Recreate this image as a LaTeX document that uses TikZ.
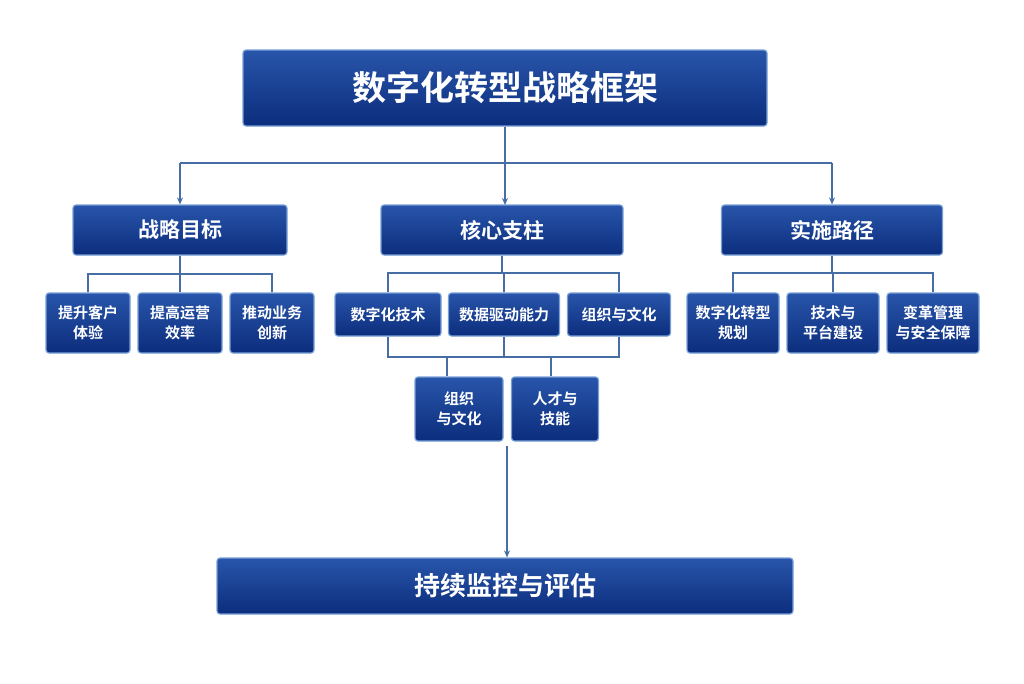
\documentclass[tikz,border=0pt]{standalone}
\usepackage{fontspec}
\setmainfont{Noto Sans CJK SC}[BoldFont={* Bold}]
\usetikzlibrary{arrows.meta}
\definecolor{boxtop}{RGB}{40,85,170}
\definecolor{boxbot}{RGB}{12,45,125}
\definecolor{boxline}{RGB}{120,160,215}
\definecolor{wire}{RGB}{70,110,165}
\tikzset{
  box/.style={rectangle,rounded corners=3pt,draw=boxline,line width=1.2pt,
    top color=boxtop,bottom color=boxbot,text=white,font=\bfseries,
    align=center,inner sep=1pt},
  wire/.style={draw=wire,line width=1.3pt},
  arr/.style={wire,-{Stealth[length=7pt,width=6pt]}}
}
\begin{document}
\begin{tikzpicture}[x=1pt,y=-1pt]
  \useasboundingbox (0,0) rectangle (1024,683);
  % title
  \node[box,minimum width=524,minimum height=76,font=\bfseries\fontsize{34}{40}\selectfont] (title) at (505,88) {数字化转型战略框架};
  % level two
  \node[box,minimum width=214,minimum height=50,font=\bfseries\fontsize{21}{25}\selectfont] (goal) at (180,230) {战略目标};
  \node[box,minimum width=242,minimum height=50,font=\bfseries\fontsize{21}{25}\selectfont] (core) at (502,230) {核心支柱};
  \node[box,minimum width=221,minimum height=50,font=\bfseries\fontsize{21}{25}\selectfont] (path) at (832,230) {实施路径};
  % leaves
  \foreach \n/\x/\t in {g1/88/{提升客户\\体验},g2/180/{提高运营\\效率},g3/272/{推动业务\\创新}}
    \node[box,minimum width=84,minimum height=60,font=\bfseries\fontsize{15}{20}\selectfont] (\n) at (\x,323) {\t};
  \foreach \n/\x/\t in {p1/733/{数字化转型\\规划},p2/833/{技术与\\平台建设},p3/933/{变革管理\\与安全保障}}
    \node[box,minimum width=92,minimum height=60,font=\bfseries\fontsize{15}{20}\selectfont] (\n) at (\x,323) {\t};
  \node[box,minimum width=106,minimum height=43,font=\bfseries\fontsize{15}{20}\selectfont] (c1) at (388,314.5) {数字化技术};
  \node[box,minimum width=111,minimum height=43,font=\bfseries\fontsize{15}{20}\selectfont] (c2) at (504,314.5) {数据驱动能力};
  \node[box,minimum width=103,minimum height=43,font=\bfseries\fontsize{15}{20}\selectfont] (c3) at (619,314.5) {组织与文化};
  \node[box,minimum width=88,minimum height=64,font=\bfseries\fontsize{15}{20}\selectfont] (s1) at (459,409) {组织\\与文化};
  \node[box,minimum width=87,minimum height=64,font=\bfseries\fontsize{15}{20}\selectfont] (s2) at (555,409) {人才与\\技能};
  % bottom
  \node[box,minimum width=576,minimum height=56,font=\bfseries\fontsize{26}{30}\selectfont] (eval) at (505,586) {持续监控与评估};
  % connectors
  \draw[wire] (title.south) -- (505,163) coordinate (tj);
  \draw[wire] (goal.north |- tj) -- (path.north |- tj);
  \draw[arr] (goal.north |- tj) -- (goal.north);
  \draw[arr] (tj) -- (505,205);
  \draw[arr] (path.north |- tj) -- (path.north);
  \draw[wire] (goal.south) -- (180,274) coordinate (gj);
  \draw[wire] (g1.north) -- (g1.north |- gj) -- (g3.north |- gj) -- (g3.north);
  \draw[wire] (g2.north) -- (g2.north |- gj);
  \draw[wire] (core.south) -- (502,273) coordinate (cj);
  \draw[wire] (c1.north) -- (c1.north |- cj) -- (c3.north |- cj) -- (c3.north);
  \draw[wire] (c2.north) -- (c2.north |- cj);
  \draw[wire] (path.south) -- (832,273) coordinate (pj);
  \draw[wire] (p1.north) -- (p1.north |- pj) -- (p3.north |- pj) -- (p3.north);
  \draw[wire] (p2.north) -- (p2.north |- pj);
  \draw[wire] (c1.south) -- (388,357) coordinate (sj) -- (c3.south |- sj) -- (c3.south);
  \draw[wire] (c2.south) -- (c2.south |- sj);
  \draw[wire] (447,357) -- (s1.north -| 447,0);
  \draw[wire] (551,357) -- (s2.north -| 551,0);
  \coordinate (ej) at (507,446);
  \draw[arr] (ej) -- (eval.north -| ej);
\end{tikzpicture}
\end{document}
